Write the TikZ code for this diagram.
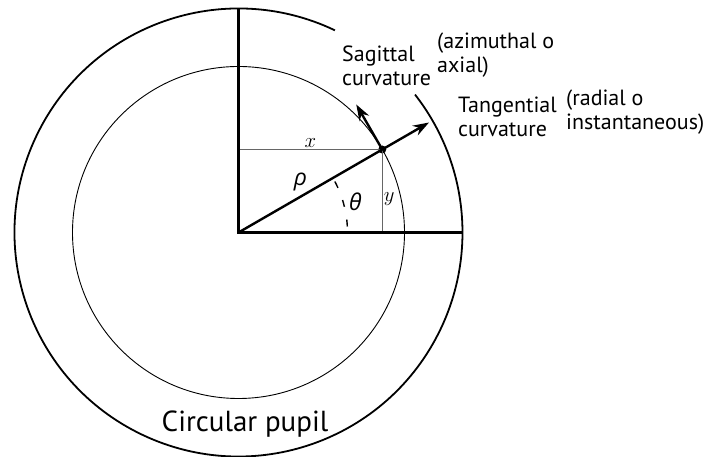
\documentclass[tikz,border=0pt]{standalone}
\usepackage{fontspec}
\setmainfont{PT Sans}
\newfontfamily\greekfont{Open Sans}
\usetikzlibrary{arrows.meta,calc}

\begin{document}
\begin{tikzpicture}[x=1pt, y=1pt,
  axis/.style={line width=2.6pt, line join=miter},
  rim/.style={line width=1.8pt},
  thinline/.style={line width=0.9pt},
  guide/.style={line width=1pt, draw=black!60},
  arrow/.style={-{Stealth[length=16pt, width=11pt]}, line width=2.4pt},
  anglearc/.style={line width=1.4pt, dash pattern=on 7pt off 13pt, dash phase=14pt},
  dot/.style={circle, fill, inner sep=0pt, minimum size=8pt},
  lbl/.style={font=\fontsize{22}{24.5}\selectfont, align=left, inner sep=0pt, anchor=north west},
  sym/.style={font=\fontsize{21}{24}\selectfont, inner sep=1pt},
]
\useasboundingbox (-238.5,-224.5) rectangle (465.5,232.5);

\coordinate (O) at (0,0);
\coordinate (top) at (0,223);
\coordinate (east) at (224,0);
\node[dot] (P) at (30:166) {};
\coordinate (xfoot) at (O |- P);
\coordinate (yfoot) at (P |- O);
\coordinate (tip) at (30:220);
\coordinate (sag) at ($(P)+(120:52)$);

% pupil rims
\draw[rim] (64.5:224) arc[start angle=64.5, end angle=398, radius=224];
\draw[thinline] (O) circle[radius=166];

\draw[guide] (xfoot) -- (P.center) node[midway, above, sym] (xlab) {$x$};
\draw[guide] (P.center) -- (yfoot) node[pos=0.6, right, sym] (ylab) {$y$};
\draw[anglearc] (0:109) arc[start angle=0, end angle=30, radius=109];

\draw[axis] (top) -- (O) -- (east);
\draw[arrow] (O) -- (tip);
\draw[arrow] (P.center) -- (sag);

\node[sym, font=\fontsize{23}{24}\selectfont] (rho) at (62,50) {\greekfont\itshape ρ};
\node[sym, font=\fontsize{23}{24}\selectfont] (theta) at (117,30.5) {\greekfont\itshape θ};

\node[lbl] (sagittal) at (103.5,187) {Sagittal\\curvature};
\node[lbl] (azim) at (198.5,200) {(azimuthal o\\axial)};
\node[lbl] (tangential) at (219.5,136) {Tangential\\curvature};
\node[lbl] (radial) at (327.5,143) {(radial o\\instantaneous)};
\node[font=\fontsize{29}{34}\selectfont, anchor=base, inner sep=0pt] (pupil) at (6.5,-199) {Circular pupil};

\end{tikzpicture}
\end{document}
